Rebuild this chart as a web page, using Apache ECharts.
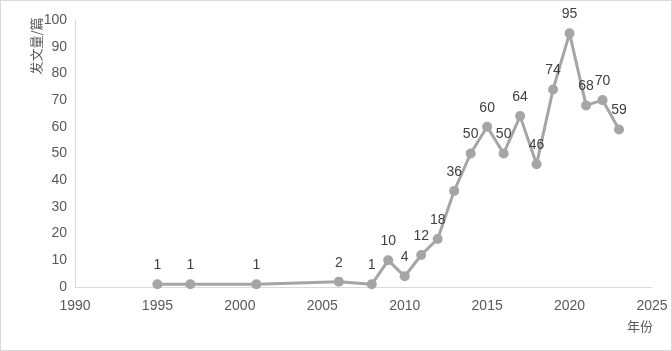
<!DOCTYPE html>
<html>
<head>
<meta charset="utf-8">
<script src="https://cdn.jsdelivr.net/npm/echarts@6/dist/echarts.min.js"></script>
<style>
html,body{margin:0;padding:0;background:#fff;}
#chart{width:670px;height:349px;border:1px solid #d9d9d9;}
</style>
</head>
<body>
<div id="chart"></div>
<script>
// 年份 / 发文量
var years = [1995, 1997, 2001, 2006, 2008, 2009, 2010, 2011, 2012, 2013, 2014, 2015, 2016, 2017, 2018, 2019, 2020, 2021, 2022, 2023];
var counts = [1, 1, 1, 2, 1, 10, 4, 12, 18, 36, 50, 60, 50, 64, 46, 74, 95, 68, 70, 59];

var points = [];
for (var i = 0; i < years.length; i++) {
    points.push([years[i], counts[i]]);
}

var myChart = echarts.init(document.getElementById('chart'));

var option = {
    animation: false,
    grid: {
        left: 74,
        right: 19,
        top: 19,
        bottom: 63,
        containLabel: false,
        outerBoundsMode: 'none'
    },
    graphic: [
        {
            type: 'text',
            x: 35,
            y: 45,
            rotation: Math.PI / 2,
            style: {
                text: '发文量/篇',
                fill: '#595959',
                fontSize: 13,
                fontFamily: 'Noto Sans CJK SC',
                align: 'center',
                verticalAlign: 'middle'
            }
        },
        {
            type: 'text',
            x: 639,
            y: 325,
            style: {
                text: '年份',
                fill: '#595959',
                fontSize: 13,
                fontFamily: 'Noto Sans CJK SC',
                align: 'center',
                verticalAlign: 'middle'
            }
        }
    ],
    xAxis: {
        type: 'value',
        min: 1990,
        max: 2025,
        interval: 5,
        axisLine: { lineStyle: { color: '#d9d9d9', width: 1 } },
        axisTick: { show: false },
        splitLine: { show: false },
        axisLabel: {
            color: '#595959',
            fontSize: 14,
            fontFamily: 'Liberation Sans',
            margin: 12,
            formatter: function (v) { return String(v); }
        }
    },
    yAxis: {
        type: 'value',
        min: 0,
        max: 100,
        interval: 10,
        axisLine: { show: true, lineStyle: { color: '#d9d9d9', width: 1 } },
        axisTick: { show: false },
        splitLine: { show: false },
        axisLabel: {
            color: '#595959',
            fontSize: 14,
            fontFamily: 'Liberation Sans',
            margin: 8
        }
    },
    series: [
        {
            type: 'line',
            data: points,
            symbol: 'circle',
            symbolSize: 10,
            lineStyle: { color: '#a5a5a5', width: 3 },
            itemStyle: { color: '#a5a5a5' },
            label: {
                show: true,
                position: 'top',
                distance: 7,
                color: '#404040',
                fontSize: 14,
                fontFamily: 'Liberation Sans'
            }
        }
    ]
};

myChart.setOption(option);
</script>
</body>
</html>
